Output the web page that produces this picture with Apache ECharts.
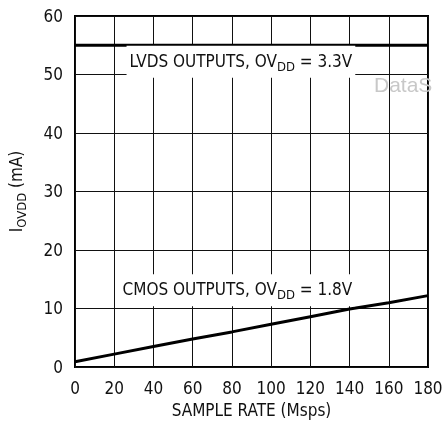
<!DOCTYPE html>
<html>
<head>
<meta charset="utf-8">
<script src="https://cdn.jsdelivr.net/npm/echarts@6/dist/echarts.min.js"></script>
<style>
  html, body { margin: 0; padding: 0; background: #fff; }
  #chart { width: 443px; height: 423px; }
</style>
</head>
<body>
<div id="chart"></div>
<script>
// sample rate (Msps)
const sampleRate = [0, 20, 40, 60, 80, 100, 120, 140, 160, 180]
// supply current I_OVDD (mA)
const lvdsCurrent = [55, 55, 55, 55, 55, 55, 55, 55, 55, 55]
const cmosCurrent = [0.9, 2.2, 3.5, 4.8, 6.0, 7.3, 8.6, 9.9, 11.0, 12.2]
// curve labels: [x, y] in data units
const lvdsLabelAt = [84.6, 52.2]
const cmosLabelAt = [82.8, 13.1]

const FONT = "'Liberation Sans Narrow', 'DejaVu Sans Condensed', Roboto, sans-serif"
const sub = { fontFamily: FONT, fontSize: 13, color: '#111', verticalAlign: 'bottom', padding: [10, 0, 0, 0] }

function curveLabel(coord, text) {
  return {
    symbol: 'rect',
    symbolSize: 0,
    data: [{ coord: coord }],
    label: {
      show: true,
      position: 'inside',
      formatter: text,
      color: '#111',
      fontFamily: FONT,
      fontSize: 17,
      backgroundColor: '#fff',
      padding: [5, 3, 4, 3],
      rich: { n: { fontFamily: FONT, fontSize: 17, color: '#111' }, sub: sub }
    }
  }
}

const chart = echarts.init(document.getElementById('chart'))
chart.setOption({
  animation: false,
  grid: {
    left: 75, right: 15, top: 16, bottom: 56,
    containLabel: false, outerBoundsMode: 'none',
    show: true, borderColor: '#000', borderWidth: 2
  },
  xAxis: {
    type: 'value', min: 0, max: 180, interval: 20,
    name: 'SAMPLE RATE (Msps)', nameLocation: 'middle', nameGap: 34,
    nameTextStyle: { fontFamily: FONT, fontSize: 17, color: '#111' },
    axisLine: { show: false }, axisTick: { show: false },
    axisLabel: { fontFamily: FONT, fontSize: 17, color: '#111', margin: 14 },
    splitLine: { lineStyle: { color: '#111', width: 1 } }
  },
  yAxis: {
    type: 'value', min: 0, max: 60, interval: 10,
    name: '{n|I}{sub|OVDD}{n| (mA)}', nameLocation: 'middle', nameGap: 46,
    nameTextStyle: { fontFamily: FONT, fontSize: 17, color: '#111', rich: { n: { fontFamily: FONT, fontSize: 17, color: '#111' }, sub: sub } },
    axisLine: { show: false }, axisTick: { show: false },
    axisLabel: { fontFamily: FONT, fontSize: 17, color: '#111', margin: 12, verticalAlign: 'top', padding: [-7, 0, 0, 0] },
    splitLine: { lineStyle: { color: '#111', width: 1 } }
  },
  graphic: [{
    type: 'text', left: 374, top: 76, silent: true, z: 10,
    style: { text: 'DataS', fill: '#c8c8c8', font: '21px Arial, Liberation Sans, sans-serif' }
  }],
  series: [
    {
      type: 'line', name: 'LVDS', showSymbol: false, z: 3,
      data: sampleRate.map((x, i) => [x, lvdsCurrent[i]]),
      lineStyle: { color: '#000', width: 3 },
      markPoint: curveLabel(lvdsLabelAt, '{n|LVDS OUTPUTS, OV}{sub|DD}{n| = 3.3V}')
    },
    {
      type: 'line', name: 'CMOS', showSymbol: false, z: 3,
      data: sampleRate.map((x, i) => [x, cmosCurrent[i]]),
      lineStyle: { color: '#000', width: 3 },
      markPoint: curveLabel(cmosLabelAt, '{n|CMOS OUTPUTS, OV}{sub|DD}{n| = 1.8V}')
    }
  ]
})
window.addEventListener('resize', () => chart.resize())
</script>
</body>
</html>
